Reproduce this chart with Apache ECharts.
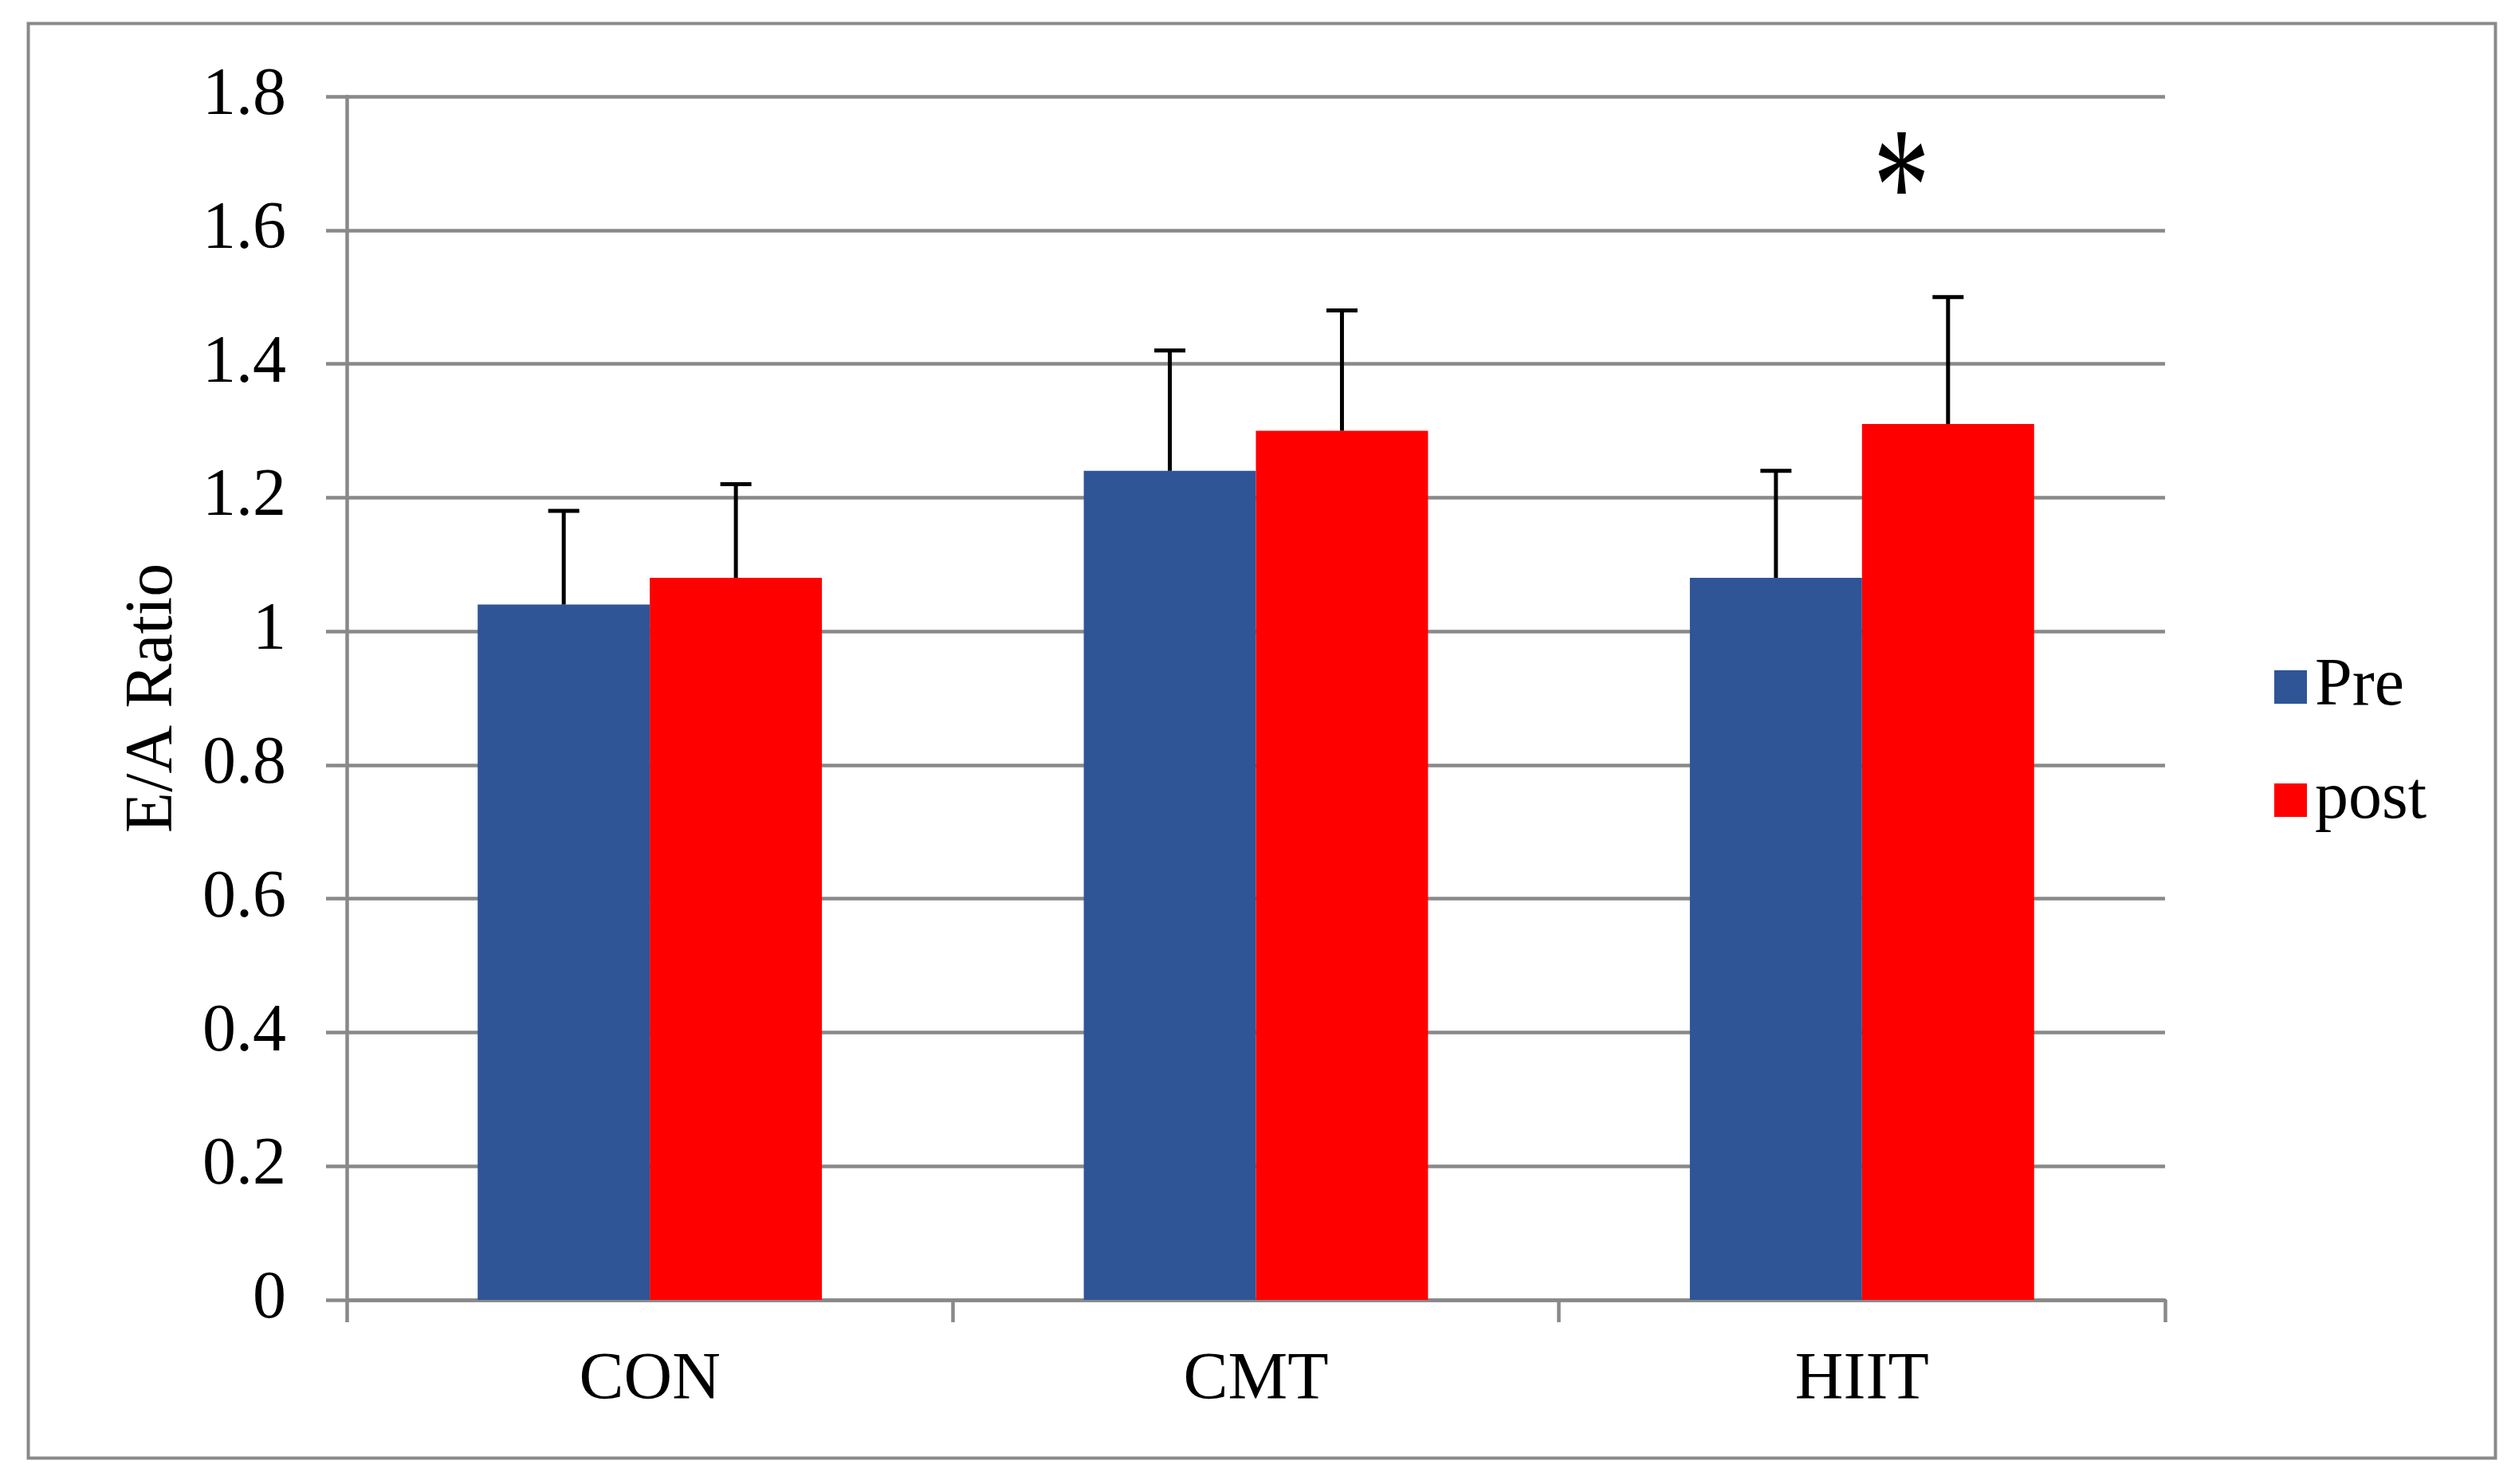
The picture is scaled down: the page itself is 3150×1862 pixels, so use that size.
<!DOCTYPE html>
<html>
<head>
<meta charset="utf-8">
<script src="https://cdn.jsdelivr.net/npm/echarts@6/dist/echarts.min.js"></script>
<style>html,body{margin:0;padding:0;background:#fff;}#c{width:3150px;height:1862px;}</style>
</head>
<body>
<div id="c"></div>
<script>
var categories = ['CON', 'CMT', 'HIIT'];
var seriesNames = ['Pre', 'post'];
var preValues = [1.04, 1.24, 1.08];
var postValues = [1.08, 1.30, 1.31];
var preErrors = [0.14, 0.18, 0.16];
var postErrors = [0.14, 0.18, 0.19];
var sigMarks = [['HIIT', 1.69, '*']];
var yTicks = [0, 0.2, 0.4, 0.6, 0.8, 1, 1.2, 1.4, 1.6, 1.8];

var FONT = "'Liberation Serif', 'Times New Roman', serif";
var GRAY = '#898989';
var BAR_FRAC = 0.284;

function errData(vals, errs) {
  return vals.map(function (v, i) { return [i, v, errs[i]]; });
}
function errRender(sign) {
  return function (params, api) {
    var cat = api.value(0), v = api.value(1), e = api.value(2);
    var base = api.coord([cat, v]);
    var top = api.coord([cat, v + e]);
    var band = api.size([1, 0])[0];
    var x = base[0] + sign * band * BAR_FRAC / 2;
    var cap = 19.5;
    var st = { stroke: '#000', lineWidth: 5 };
    return {
      type: 'group',
      children: [
        { type: 'line', shape: { x1: x, y1: base[1], x2: x, y2: top[1] }, style: st },
        { type: 'line', shape: { x1: x - cap, y1: top[1], x2: x + cap, y2: top[1] }, style: st }
      ]
    };
  };
}

var chart = echarts.init(document.getElementById('c'), null, { renderer: 'canvas' });
chart.setOption({
  backgroundColor: '#fff',
  animation: false,
  textStyle: { fontFamily: FONT },
  graphic: [{
    type: 'rect', shape: { x: 35.5, y: 29.5, width: 3095, height: 1800 },
    style: { fill: 'none', stroke: GRAY, lineWidth: 4 }, z: 0
  }],
  grid: { left: 435, right: 434, top: 121, bottom: 231, containLabel: false },
  legend: {
    orient: 'vertical', left: 2848, top: 815,
    itemWidth: 41, itemHeight: 42, itemGap: 58,
    icon: 'rect',
    data: seriesNames,
    textStyle: { fontFamily: FONT, fontSize: 84, color: '#000', lineHeight: 84, padding: [0, 0, 0, 5] }
  },
  xAxis: {
    type: 'category', data: categories,
    axisLine: { lineStyle: { color: GRAY, width: 4.5 } },
    axisTick: { show: true, length: 28, lineStyle: { color: GRAY, width: 4.5 } },
    axisLabel: { fontFamily: FONT, fontSize: 84, color: '#000', margin: 60 },
    splitLine: { show: false }
  },
  yAxis: {
    type: 'value', min: 0, max: 1.8, interval: 0.2,
    name: 'E/A Ratio', nameLocation: 'middle', nameGap: 200,
    nameTextStyle: { fontFamily: FONT, fontSize: 84, color: '#000' },
    axisLine: { show: true, lineStyle: { color: GRAY, width: 4.5 } },
    axisTick: { show: true, length: 26, lineStyle: { color: GRAY, width: 4.5 } },
    axisLabel: {
      fontFamily: FONT, fontSize: 84, color: '#000', margin: 76,
      formatter: function (v) { var r = Math.round(v * 10) / 10; return yTicks.indexOf(r) >= 0 ? String(r) : ''; }
    },
    splitLine: { show: true, lineStyle: { color: GRAY, width: 4.5 } }
  },
  series: [
    { name: 'Pre', type: 'bar', data: preValues, barWidth: (BAR_FRAC * 100) + '%', barGap: '0%', itemStyle: { color: '#2F5597' }, z: 2 },
    { name: 'post', type: 'bar', data: postValues, barWidth: (BAR_FRAC * 100) + '%', barGap: '0%', itemStyle: { color: '#FF0000' }, z: 2 },
    { type: 'custom', data: errData(preValues, preErrors), renderItem: errRender(-1), z: 5, silent: true },
    { type: 'custom', data: errData(postValues, postErrors), renderItem: errRender(1), z: 5, silent: true },
    {
      type: 'custom', z: 6, silent: true,
      data: sigMarks.map(function (m) { return [categories.indexOf(m[0]), m[1], m[2]]; }),
      renderItem: function (params, api) {
        var p = api.coord([api.value(0), api.value(1)]);
        var band = api.size([1, 0])[0];
        var x = p[0] + band * BAR_FRAC * 0.23;
        return {
          type: 'text',
          x: x, y: p[1] + 36, scaleX: 0.95, scaleY: 1.4,
          style: { x: 0, y: 0, text: sigMarks[params.dataIndex][2], fontFamily: FONT, fontSize: 150, fill: '#000', align: 'center', verticalAlign: 'middle' }
        };
      }
    }
  ]
});
</script>
</body>
</html>
